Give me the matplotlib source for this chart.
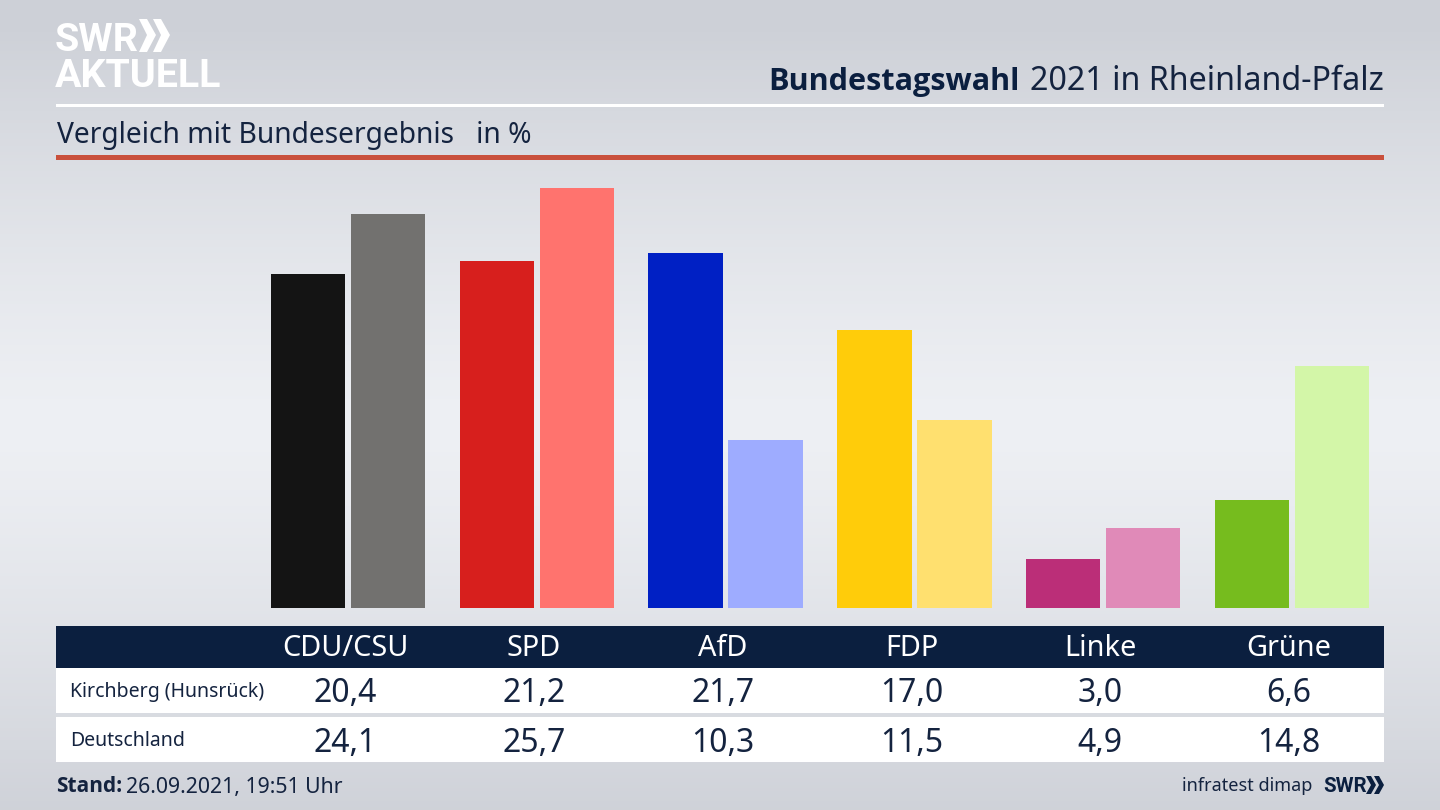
import numpy as np
from matplotlib import pyplot as plt
from matplotlib.patches import Rectangle, Polygon

plt.rcParams["font.family"] = ["Noto Sans", "DejaVu Sans"]
BOLD_FONT = ["Open Sans", "DejaVu Sans"]
LOGO_FONT = ["Liberation Sans Narrow", "Roboto", "DejaVu Sans"]

parties = ["CDU/CSU", "SPD", "AfD", "FDP", "Linke", "Grüne"]
regions = ["Kirchberg (Hunsrück)", "Deutschland"]
kirchberg = [20.4, 21.2, 21.7, 17.0, 3.0, 6.6]
deutschland = [24.1, 25.7, 10.3, 11.5, 4.9, 14.8]
dark_colors = ["#141414", "#d71f1d", "#0020c4", "#ffcc0a", "#bb2e78", "#76bc1e"]
light_colors = ["#72716f", "#ff736e", "#9eacff", "#ffe06f", "#e08ab8", "#d3f6a8"]

NAVY = "#0b1f3f"
TEXT = "#14233f"

fig = plt.figure(figsize=(14.4, 8.1), dpi=100)

# whole figure in pixels, for background, header and table
bg = fig.add_axes([0, 0, 1, 1])
bg.set_xlim(0, 1440)
bg.set_ylim(810, 0)
bg.axis("off")

top_col = np.array([205, 208, 215])
mid_col = np.array([238, 240, 244])
shade = np.abs(np.linspace(-1.05, 0.95, 256)) ** 1.3
grad = (mid_col + (top_col - mid_col) * np.minimum(shade, 1)[:, None]) / 255
bg.imshow(grad[:, None, :], extent=[0, 1440, 810, 0], aspect="auto", zorder=0)

# logo
bg.text(55, 51, "SWR", color="white", fontsize=28.4, fontweight="bold", family=LOGO_FONT,
        va="baseline", ha="left")
for x0 in (139, 153):
    bg.add_patch(Polygon([(x0, 19), (x0 + 8, 19), (x0 + 17, 35), (x0 + 8, 52), (x0, 52), (x0 + 8, 35)],
                         closed=True, fc="white", ec="none", zorder=3))
bg.text(55, 87, "AKTUELL", color="white", fontsize=28.4, fontweight="bold", family=LOGO_FONT,
        va="baseline", ha="left")

# title
bg.text(1020, 82, "Bundestagswahl", color=NAVY, fontsize=22.1, fontweight="bold", family=BOLD_FONT,
        va="center", ha="right")
bg.text(1384, 82, "2021 in Rheinland-Pfalz", color=TEXT, fontsize=23.2, va="center", ha="right")

bg.add_patch(Rectangle((56, 104), 1328, 3, fc="white", ec="none", zorder=2))
bg.text(57, 135, "Vergleich mit Bundesergebnis   in %", color=TEXT, fontsize=20.3, va="center", ha="left")
bg.add_patch(Rectangle((56, 155), 1328, 5, fc="#c9503c", ec="none", zorder=2))

# table
bg.add_patch(Rectangle((56, 626), 1328, 42, fc=NAVY, ec="none", zorder=2))
bg.add_patch(Rectangle((56, 668), 1328, 45, fc="white", ec="none", zorder=2))
bg.add_patch(Rectangle((56, 717), 1328, 45, fc="white", ec="none", zorder=2))

label_x = [345, 534, 723, 912, 1100, 1289]
for i, name in enumerate(parties):
    bg.text(label_x[i], 649, name, color="white", fontsize=20.8, va="center", ha="center", zorder=3)
    bg.text(label_x[i], 694, f"{kirchberg[i]:.1f}".replace(".", ","), color=TEXT, fontsize=23,
            va="center", ha="center", zorder=3)
    bg.text(label_x[i], 743, f"{deutschland[i]:.1f}".replace(".", ","), color=TEXT, fontsize=23,
            va="center", ha="center", zorder=3)
bg.text(70, 692, regions[0], color=TEXT, fontsize=14, va="center", ha="left", zorder=3)
bg.text(70, 741, regions[1], color=TEXT, fontsize=14, va="center", ha="left", zorder=3)

# footer
bg.text(56, 787, "Stand:", color=TEXT, fontsize=15, fontweight="bold", family=BOLD_FONT, va="center", ha="left")
bg.text(126, 787, "26.09.2021, 19:51 Uhr", color=TEXT, fontsize=15.3, va="center", ha="left")
bg.text(1312, 786, "infratest dimap", color=TEXT, fontsize=13, va="center", ha="right")
bg.text(1323, 792, "SWR", color=NAVY, fontsize=14.8, fontweight="bold", family=LOGO_FONT, va="baseline", ha="left")
for x0 in (1366, 1374):
    bg.add_patch(Polygon([(x0, 776), (x0 + 5, 776), (x0 + 10, 785), (x0 + 5, 794), (x0, 794), (x0 + 5, 785)],
                         closed=True, fc=NAVY, ec="none", zorder=3))

# bars: one x unit is one party group, y is percent
ax = fig.add_axes([0, (810 - 608) / 810, 1, (608 - 160) / 810])
ax.patch.set_alpha(0)
px_per_group = 188.8
ax.set_xlim(-348 / px_per_group, (1440 - 348) / px_per_group)
ax.set_ylim(0, (608 - 160) / 16.35)
ax.axis("off")
x = np.arange(len(parties))
ax.bar(x - 40 / px_per_group, kirchberg, width=74.5 / px_per_group, color=dark_colors)
ax.bar(x + 40 / px_per_group, deutschland, width=74.5 / px_per_group, color=light_colors)

plt.savefig("out.png", dpi=100)
